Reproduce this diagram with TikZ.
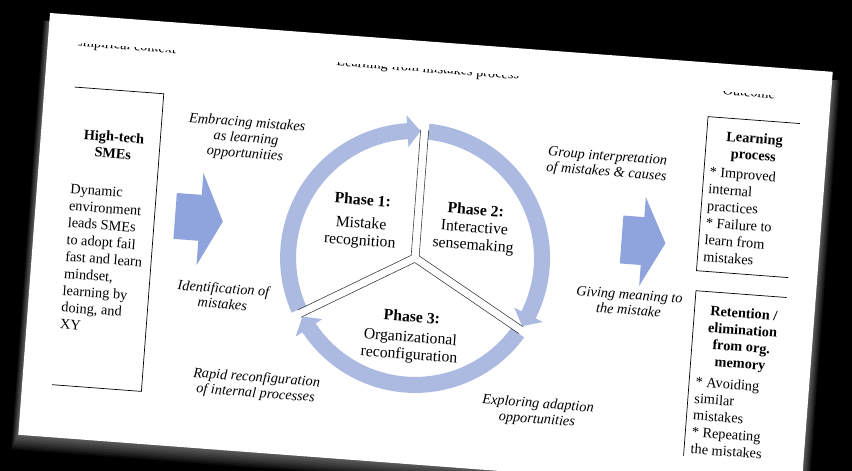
\documentclass[tikz,border=0pt]{standalone}
\usepackage{fontspec}
\setmainfont{Liberation Serif}
\definecolor{ringblue}{RGB}{172,186,226}
\definecolor{blockblue}{RGB}{143,164,221}
\newcommand\RCx{382.4}
\newcommand\RCy{216.9}
% #1 start angle, #2 head base angle, #3 tip angle
\newcommand\RingArrow[3]{%
  \fill[ringblue] ({\RCx+135*cos(#1)},{\RCy+135*sin(#1)})
    -- plot[domain=#1:#2, samples=40] ({\RCx+135*cos(\x)},{\RCy+135*sin(\x)})
    -- ({\RCx+143*cos(#2)},{\RCy+143*sin(#2)})
    -- ({\RCx+127*cos(#3)},{\RCy+127*sin(#3)})
    -- ({\RCx+111*cos(#2)},{\RCy+111*sin(#2)})
    -- plot[domain=#2:#1, samples=40] ({\RCx+119*cos(\x)},{\RCy+119*sin(\x)})
    -- cycle;}
\begin{document}
\begin{tikzpicture}[x=1pt,y=-1pt,
  lbl/.style={font=\fontsize{14.3}{15.5}\selectfont\itshape, align=center, inner sep=0pt, transform shape},
  phasetxt/.style={font=\fontsize{15.7}{17.5}\selectfont, align=center, inner sep=0pt, anchor=base, transform shape},
  boxtitle/.style={font=\fontsize{14.3}{16.8}\selectfont\bfseries, align=center, inner sep=0pt, anchor=base, transform shape},
  boxbody/.style={font=\fontsize{14.3}{16.8}\selectfont, align=left, inner sep=0pt, anchor=base west, transform shape},
  header/.style={font=\fontsize{14.3}{17}\selectfont, inner sep=0pt, anchor=base, transform shape},
  framebox/.style={draw=black, line width=0.7pt},
  blockarrow/.style={fill=blockblue},
  divider/.style={draw=black!80, line width=0.55pt},
]
\fill[black] (0,0) rectangle (852,471);
\useasboundingbox (0,0) rectangle (852,471);
\begin{scope}[shift={(50,13)}, rotate=-4.3]
  % shadow
  \foreach \k in {1,...,10}
    \fill[white, opacity=0.045] (-0.6*\k, 8) rectangle (785+0.8*\k, 423+1.5*\k);
  % paper
  \fill[white] (0,0) rectangle (785,423);
  \begin{scope}
    \clip (30,27.5) rectangle (756,394);
    % headers (cut off at the top of the figure)
    \node[header] (h1) at (77.5,31) {Empirical context};
    \node[header] (h2) at (381,31) {Learning from mistakes process};
    \node[header] (h3) at (703,31) {Outcome};
    % boxes
    \draw[framebox] (20,72) rectangle (119.5,370.5);
    \draw[framebox] (664,54) rectangle (770,208.5);
    \draw[framebox] (665,228.5) rectangle (770,410);
    % left box text (anchor = baseline of last line)
    \node[boxtitle] (smet) at (73.2,140.2) {High-tech\\SMEs};
    \node[boxbody, font=\fontsize{14.3}{17}\selectfont] (smeb) at (33.4,314.3) {Dynamic\\environment\\leads SMEs\\to adopt fail\\fast and learn\\mindset,\\learning by\\doing, and\\XY};
    % right boxes text
    \node[boxtitle] (lpt) at (712.1,93.9) {Learning\\process};
    \node[boxbody, font=\fontsize{14.3}{17}\selectfont] (lpb) at (669.7,198.8) {* Improved\\internal\\practices\\* Failure to\\learn from\\mistakes};
    \node[boxtitle] (ret) at (714.5,302.7) {Retention /\\elimination\\from org.\\memory};
    \node[boxbody] (reb) at (671.5,391.2) {* Avoiding\\similar\\mistakes\\* Repeating\\the mistakes};
    % block arrows
    \fill[blockarrow] (140,170) -- (165,170) -- (165,148) -- (188,195) -- (165,240.5) -- (165,216) -- (140,216) -- cycle;
    \fill[blockarrow] (587,159) -- (608,159) -- (608,139) -- (631,183.5) -- (608,228) -- (608,207) -- (587,207) -- cycle;
    % ring
    \RingArrow{151.8}{262.3}{268.2}
    \RingArrow{271.8}{382.3}{388.2}
    \RingArrow{31.8}{142.3}{148.2}
    % slice dividers
    \coordinate (A1) at (378.4,214.6);
    \coordinate (A2) at (386.4,214.6);
    \coordinate (A3) at (382.4,221.5);
    \draw[divider] (A1) -- ++(150:126);
    \draw[divider] (A1) -- ++(270:126);
    \draw[divider] (A2) -- ++(270:126);
    \draw[divider] (A2) -- ++(30:126);
    \draw[divider] (A3) -- ++(30:126);
    \draw[divider] (A3) -- ++(150:126);
    % phase texts (anchor = baseline of last line)
    \node[phasetxt] (p1) at (326,208.6) {\textbf{Phase 1:}\\[5.5pt]Mistake\\recognition};
    \node[phasetxt] (p2) at (439.4,204.5) {\textbf{Phase 2:}\\Interactive\\sensemaking};
    \node[phasetxt] (p3) at (383.7,318.5) {\textbf{Phase 3:}\\[2.5pt]Organizational\\reconfiguration};
    % italic labels
    \node[lbl] (l1) at (204.9,110.9) {Embracing mistakes\\as learning\\opportunities};
    \node[lbl] (l2) at (193.7,269.2) {Identification of\\mistakes};
    \node[lbl] (l3) at (233.4,356.6) {Rapid reconfiguration\\of internal processes};
    \node[lbl] (l4) at (566.8,109.8) {Group interpretation\\of mistakes \& causes};
    \node[lbl] (l5) at (599.1,245.1) {Giving meaning to\\the mistake};
    \node[lbl] (l6) at (516,361.6) {Exploring adaption\\opportunities};
  \end{scope}
\end{scope}
\end{tikzpicture}
\end{document}
